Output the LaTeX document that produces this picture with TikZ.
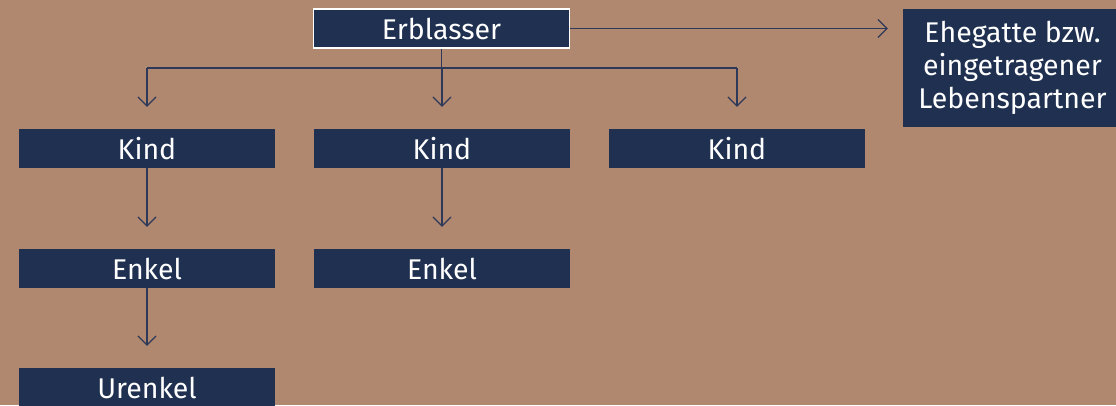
\documentclass[tikz,border=0pt]{standalone}
\usepackage{fontspec}
\setmainfont{Fira Sans}
\usetikzlibrary{arrows.meta}
\definecolor{bgc}{RGB}{176,136,112}
\definecolor{boxc}{RGB}{31,48,80}
\definecolor{linec}{RGB}{46,56,88}
\tikzset{
  person/.style={fill=boxc, text=white, minimum width=256pt, minimum height=39pt, inner sep=0pt, font=\fontsize{28.5}{33}\selectfont},
  conn/.style={draw=linec, line width=1.2pt},
  arr/.style={conn, -{Straight Barb[length=9pt,width=18pt,line width=1.2pt]}}
}
\begin{document}
\begin{tikzpicture}[x=1pt,y=-1pt]
\fill[bgc] (0,0) rectangle (1116,405);
\useasboundingbox (0,0) rectangle (1116,405);
\node[person, draw=white, line width=1.5pt] (erb) at (441.5,28.5) {Erblasser};
\node[person, minimum width=219pt, minimum height=118pt, align=center] (ehe) at (1012.5,68) {Ehegatte bzw.\\eingetragener\\Lebenspartner};
\node[person] (k1) at (147,148.5) {Kind};
\node[person] (k2) at (442,148.5) {Kind};
\node[person] (k3) at (737,148.5) {Kind};
\node[person] (e1) at (147,268.5) {Enkel};
\node[person] (e2) at (442,268.5) {Enkel};
\node[person] (u1) at (147,387.5) {Urenkel};
\coordinate (j) at (441.5,68);
\coordinate (h1) at (147,68);
\coordinate (h3) at (737,68);
\draw[conn] (erb.south) -- (j);
\draw[conn] (h1) -- (h3);
\draw[arr, shorten >=22pt] (h1) -- (k1.north);
\draw[arr, shorten >=22pt] (j -| k2.north) -- (k2.north);
\draw[arr, shorten >=22pt] (h3) -- (k3.north);
\draw[arr, shorten >=22pt] (k1.south) -- (e1.north);
\draw[arr, shorten >=22pt] (k2.south) -- (e2.north);
\draw[arr, shorten >=22pt] (e1.south) -- (u1.north);
\draw[arr, shorten >=15pt] (erb.east) -- (erb.east -| ehe.west);
\end{tikzpicture}
\end{document}
